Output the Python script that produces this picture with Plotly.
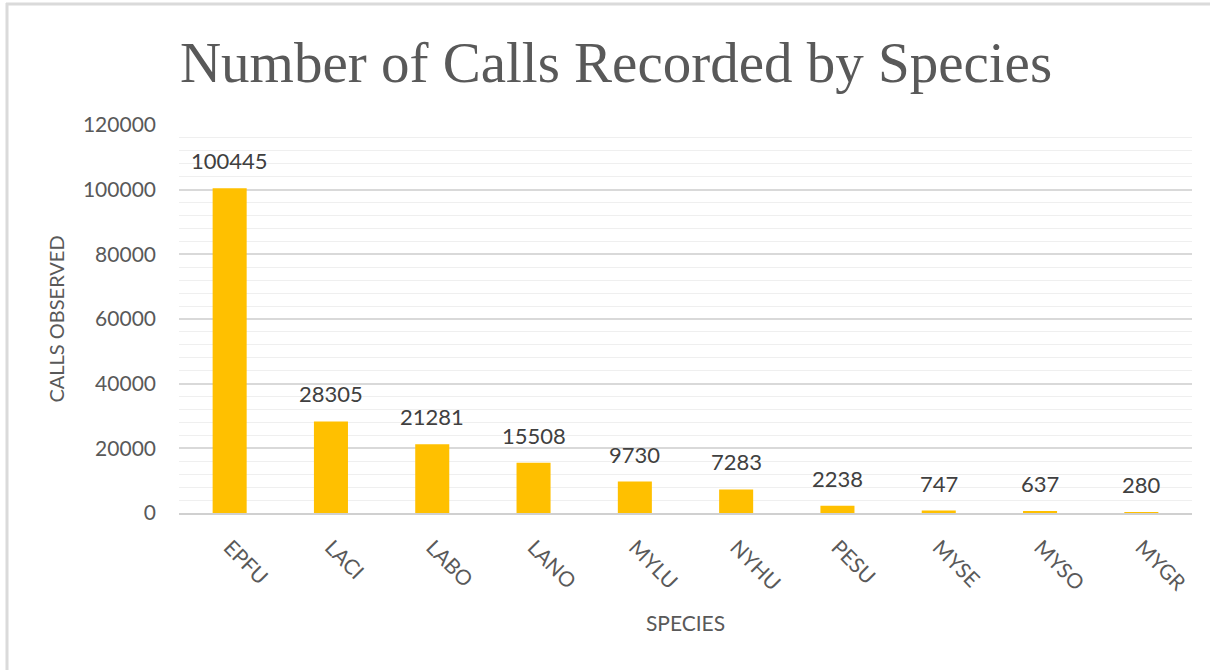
import plotly.graph_objects as go

species = ["EPFU", "LACI", "LABO", "LANO", "MYLU", "NYHU", "PESU", "MYSE", "MYSO", "MYGR"]
calls = [100445, 28305, 21281, 15508, 9730, 7283, 2238, 747, 637, 280]
y_ticks = [0, 20000, 40000, 60000, 80000, 100000, 120000]

W, H = 1210, 670
L, R, T, B = 179, 18, 125, 157
pw, ph = W - L - R, H - T - B

fig = go.Figure(go.Bar(
    x=species, y=calls,
    marker=dict(color="#FFC000", line=dict(width=0)),
    hoverinfo="x+y",
))

for s, v in zip(species, calls):
    fig.add_annotation(x=s, y=v, text=str(v), showarrow=False,
                       yanchor="bottom", yshift=12,
                       font=dict(family="Lato", size=22, color="#404040"))

def px_x(p):
    return (p - L) / pw

def px_y(p):
    return (H - B - p) / ph

border = dict(color="#dadada", width=3)

fig.update_layout(
    width=W, height=H,
    margin=dict(l=L, r=R, t=T, b=B, autoexpand=False),
    paper_bgcolor="white", plot_bgcolor="white",
    bargap=0.664,
    showlegend=False,
    title=dict(text="Number of Calls Recorded by Species", x=616 / W, xanchor="center",
               y=1 - 62 / H, yanchor="middle",
               font=dict(family="Liberation Serif", size=57, color="#595959")),
    xaxis=dict(
        tickangle=45, tickfont=dict(family="Lato", size=21, color="#595959"),
        showgrid=False, showline=True, linecolor="#d0d0d0", linewidth=2,
        ticks="", ticklabelstandoff=12,
        title=dict(text="SPECIES", font=dict(family="Lato", size=21, color="#595959"), standoff=22),
    ),
    yaxis=dict(
        range=[0, 120000], tickvals=y_ticks, ticktext=[str(v) for v in y_ticks],
        tickfont=dict(family="Lato", size=21, color="#595959"),
        showgrid=True, gridcolor="#d9d9d9", gridwidth=2, zeroline=False,
        minor=dict(dtick=4000, showgrid=True, gridcolor="#efefef", gridwidth=1),
        ticks="", ticklabelstandoff=22,
        title=dict(text="CALLS OBSERVED", font=dict(family="Lato", size=20, color="#595959"), standoff=12),
    ),
    shapes=[
        dict(type="line", xref="paper", yref="paper",
             x0=px_x(6), x1=px_x(1212), y0=px_y(4), y1=px_y(4), line=border, layer="below"),
        dict(type="line", xref="paper", yref="paper",
             x0=px_x(7), x1=px_x(7), y0=px_y(3), y1=px_y(672), line=border, layer="below"),
    ],
)

fig.write_html("out.html", config={"displayModeBar": False},
               post_script="document.body.style.margin='0';document.body.style.overflow='hidden';")
